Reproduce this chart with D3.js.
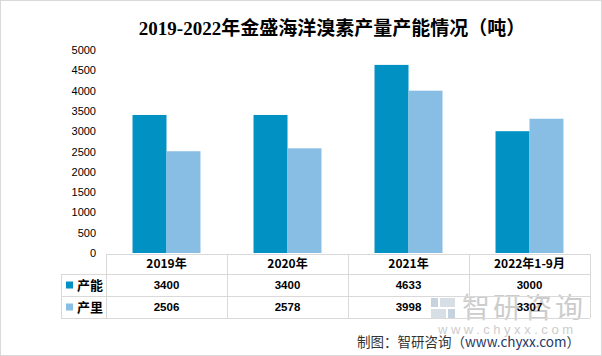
<!DOCTYPE html>
<html><head><meta charset="utf-8">
<script src="https://cdn.jsdelivr.net/npm/d3@7"></script>
<style>body{margin:0;background:#fff}</style>
</head><body><svg id="c" width="602" height="356"></svg>
<script>
const categories = ["2019年", "2020年", "2021年", "2022年1-9月"];
const seriesNames = ["产能", "产里"];
const capacity = [3400, 3400, 4633, 3000];
const output = [2506, 2578, 3998, 3307];
const yTicks = [0, 500, 1000, 1500, 2000, 2500, 3000, 3500, 4000, 4500, 5000];
const colors = ["#0291C3", "#88BEE4"];
const title = "2019-2022年金盛海洋溴素产量产能情况（吨）";

const svg = d3.select("#c");
svg.append("rect").attr("x",0.5).attr("y",0.5).attr("width",601).attr("height",355)
  .attr("fill","#fff").attr("stroke","#d9d9d9");

const x0 = d3.scaleBand().domain(categories).range([106, 590]).paddingInner(0).paddingOuter(0);
const x1 = d3.scaleBand().domain(seriesNames).range([0, x0.bandwidth()]).paddingInner(0).paddingOuter(0.78);
const y = d3.scaleLinear().domain([0, 5000]).range([253, 50]);

svg.append("text").attr("x", 332).attr("y", 35).attr("text-anchor","middle")
  .attr("font-family","'Liberation Serif','Noto Sans CJK SC',serif").attr("font-weight","bold")
  .attr("font-size", 19).attr("fill","#000").text(title);

const yAxis = d3.axisLeft(y).tickValues(yTicks).tickFormat(d3.format("d")).tickSize(0).tickPadding(0);
const gy = svg.append("g").attr("transform","translate(96,0)").call(yAxis);
gy.select(".domain").remove();
gy.selectAll("text").attr("font-family","'Liberation Sans','Noto Sans CJK SC',sans-serif")
  .attr("font-size",11).attr("fill","#000");

// watermark (behind table text)
const tf = "'Noto Sans CJK SC','Liberation Sans',sans-serif";
const wm = svg.append("g").attr("opacity",0.5);
wm.append("rect").attr("x",431).attr("y",298).attr("width",7).attr("height",9).attr("fill","#8fa6bd");
wm.append("rect").attr("x",440).attr("y",298).attr("width",15).attr("height",9).attr("fill","#b0bfce");
wm.append("rect").attr("x",431).attr("y",309).attr("width",15).attr("height",10).attr("fill","#b0bfce");
wm.append("rect").attr("x",448).attr("y",309).attr("width",7).attr("height",10).attr("fill","#8fa6bd");
wm.append("text").attr("x",462).attr("y",318).attr("font-family",tf).attr("font-size",28)
  .attr("textLength",121).attr("fill","#9a9a9a").text("智研咨询");
wm.append("text").attr("x",438).attr("y",334).attr("font-family","'Liberation Sans',sans-serif").attr("font-size",13)
  .attr("textLength",135).attr("fill","#9a9a9a").text("www.chyxx.com");

const data = categories.map((c,i)=>({c, vals:[capacity[i], output[i]]}));
const g = svg.append("g");
data.forEach(d=>{
  d.vals.forEach((v,j)=>{
    g.append("rect").attr("x", x0(d.c)+x1(seriesNames[j])).attr("y", y(v))
      .attr("width", x1.bandwidth()).attr("height", y(0)-y(v)).attr("fill", colors[j]);
  });
});

// table
const tLeft = 61, tRight = 590, rows = [254, 274, 296, 318];
const lc = "#d9d9d9";
const tg = svg.append("g").attr("stroke", lc).attr("stroke-width",1).attr("shape-rendering","crispEdges");
tg.append("line").attr("x1",x0.range()[0]).attr("x2",tRight).attr("y1",rows[0]).attr("y2",rows[0]);
[1,2,3].forEach(i=>tg.append("line").attr("x1",tLeft).attr("x2",tRight).attr("y1",rows[i]).attr("y2",rows[i]));
tg.append("line").attr("x1",tLeft).attr("x2",tLeft).attr("y1",rows[1]).attr("y2",rows[3]);
categories.forEach(c=>tg.append("line").attr("x1",x0(c)).attr("x2",x0(c)).attr("y1",rows[0]).attr("y2",rows[3]));
tg.append("line").attr("x1",tRight).attr("x2",tRight).attr("y1",rows[0]).attr("y2",rows[3]);

categories.forEach((c,i)=>{
  const cx = x0(c)+x0.bandwidth()/2;
  svg.append("text").attr("x",cx).attr("y",(rows[0]+rows[1])/2).attr("dy","0.35em")
    .attr("text-anchor","middle").attr("font-family",tf).attr("font-weight","bold").attr("font-size",12).text(c);
  [capacity, output].forEach((arr,j)=>{
    svg.append("text").attr("x",cx).attr("y",(rows[j+1]+rows[j+2])/2).attr("dy","0.35em")
      .attr("text-anchor","middle").attr("font-family","'Liberation Sans',sans-serif").attr("font-weight","bold")
      .attr("font-size",11.5).text(arr[i]);
  });
});
seriesNames.forEach((s,j)=>{
  const cy = (rows[j+1]+rows[j+2])/2;
  svg.append("rect").attr("x",66).attr("y",cy-3.5).attr("width",7).attr("height",7).attr("fill",colors[j]);
  svg.append("text").attr("x",77).attr("y",cy).attr("dy","0.35em").attr("font-family",tf)
    .attr("font-weight","bold").attr("font-size",13).text(s);
});

// footer
const ft = svg.append("text").attr("x",357).attr("y",347).attr("font-family",tf).attr("font-size",13.5).attr("fill","#333");
ft.append("tspan").text("制图：智研咨询（");
ft.append("tspan").attr("fill","#1f3864").text("www.chyxx.com");
ft.append("tspan").text("）");
</script></body></html>
